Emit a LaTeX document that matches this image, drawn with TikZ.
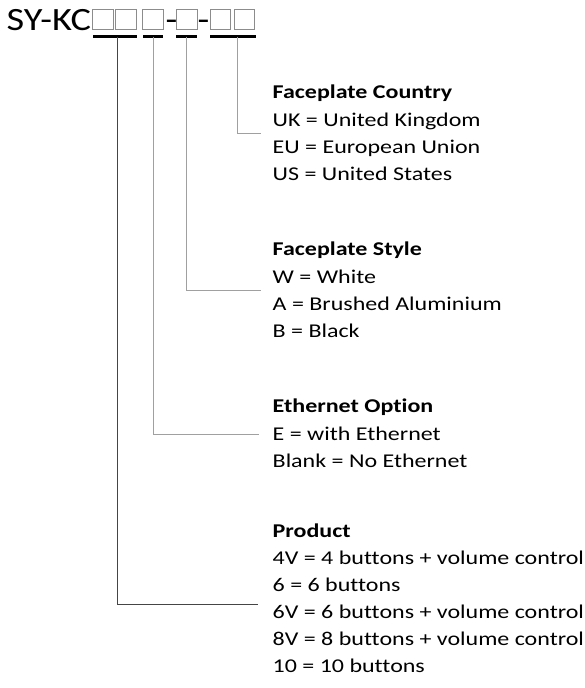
\documentclass[tikz,border=0pt]{standalone}
\usepackage{fontspec}
\setmainfont[Ligatures=NoCommon, FakeStretch=1.23]{Carlito}
\newfontfamily\codefont[Ligatures=NoCommon, FakeStretch=1.18]{Carlito}
\definecolor{slotgray}{HTML}{8C8C8C}
\definecolor{leaddark}{HTML}{454545}
\definecolor{leadlight}{HTML}{A0A0A0}
\begin{document}
\begin{tikzpicture}[x=1pt,y=-1pt,
  code/.style={font=\codefont\fontsize{32.5}{32.5}\selectfont, inner sep=0pt, anchor=base west},
  slot/.style={draw=slotgray, line width=0.9pt, minimum size=20.5pt, inner sep=0pt},
  uline/.style={line width=2.3pt, black},
  lead/.style={line width=1pt, leadlight},
  head/.style={font=\fontsize{19.5}{27}\selectfont\bfseries, inner sep=0pt, anchor=base west},
  item/.style={font=\fontsize{19.5}{27}\selectfont, inner sep=0pt, anchor=base west}]
\useasboundingbox (0,0) rectangle (585,688);

% part number with its option slots
\node[code] (code) at (6.5,30.5) {SY-KC};
\node[slot] (s1) at (103,19.5) {};
\node[slot] (s2) at (126,19.5) {};
\node[slot] (s3) at (153,19.5) {};
\node[code] (d1) at (165.5,30.5) {-};
\node[slot] (s4) at (187,19.5) {};
\node[code] (d2) at (197.5,30.5) {-};
\node[slot] (s5) at (220.5,19.5) {};
\node[slot] (s6) at (244.5,19.5) {};

% underlines grouping the slots
\draw[uline] (93,36.5) -- (137,36.5);
\draw[uline] (143,36.5) -- (163,36.5);
\draw[uline] (176,36.5) -- (197,36.5);
\draw[uline] (210,36.5) -- (256,36.5);

% where each leader leaves its underline
\coordinate (p1) at (117,36.5);
\coordinate (p2) at (153,36.5);
\coordinate (p3) at (186,36.5);
\coordinate (p4) at (237,36.5);

% Faceplate Country
\node[head] (cty) at (272.5,98.5) {Faceplate Country};
\node[item] (cty1) at (272.5,126) {UK = United Kingdom};
\node[item] (cty2) at (272.5,153) {EU = European Union};
\node[item] (cty3) at (272.5,180) {US = United States};
\coordinate (e4) at (261,133);

% Faceplate Style
\node[head] (sty) at (272.5,255.5) {Faceplate Style};
\node[item] (sty1) at (272.5,283.5) {W = White};
\node[item] (sty2) at (272.5,310.5) {A = Brushed Aluminium};
\node[item] (sty3) at (272.5,337.5) {B = Black};
\coordinate (e3) at (261,290);

% Ethernet Option
\node[head] (eth) at (272.5,412.5) {Ethernet Option};
\node[item] (eth1) at (272.5,440.5) {E = with Ethernet};
\node[item] (eth2) at (272.5,467.5) {Blank = No Ethernet};
\coordinate (e2) at (259,434);

% Product
\node[head] (prd) at (272.5,537.5) {Product};
\node[item] (prd1) at (272.5,564.5) {4V = 4 buttons + volume control};
\node[item] (prd2) at (272.5,591.5) {6 = 6 buttons};
\node[item] (prd3) at (272.5,618.5) {6V = 6 buttons + volume control};
\node[item] (prd4) at (272.5,645.5) {8V = 8 buttons + volume control};
\node[item] (prd5) at (272.5,672.5) {10 = 10 buttons};
\coordinate (e1) at (258,604);

% leaders from the underlines to the option lists
\draw[lead, leaddark] (p1) |- (e1);
\draw[lead] (p2) |- (e2);
\draw[lead] (p3) |- (e3);
\draw[lead] (p4) |- (e4);
\end{tikzpicture}
\end{document}
